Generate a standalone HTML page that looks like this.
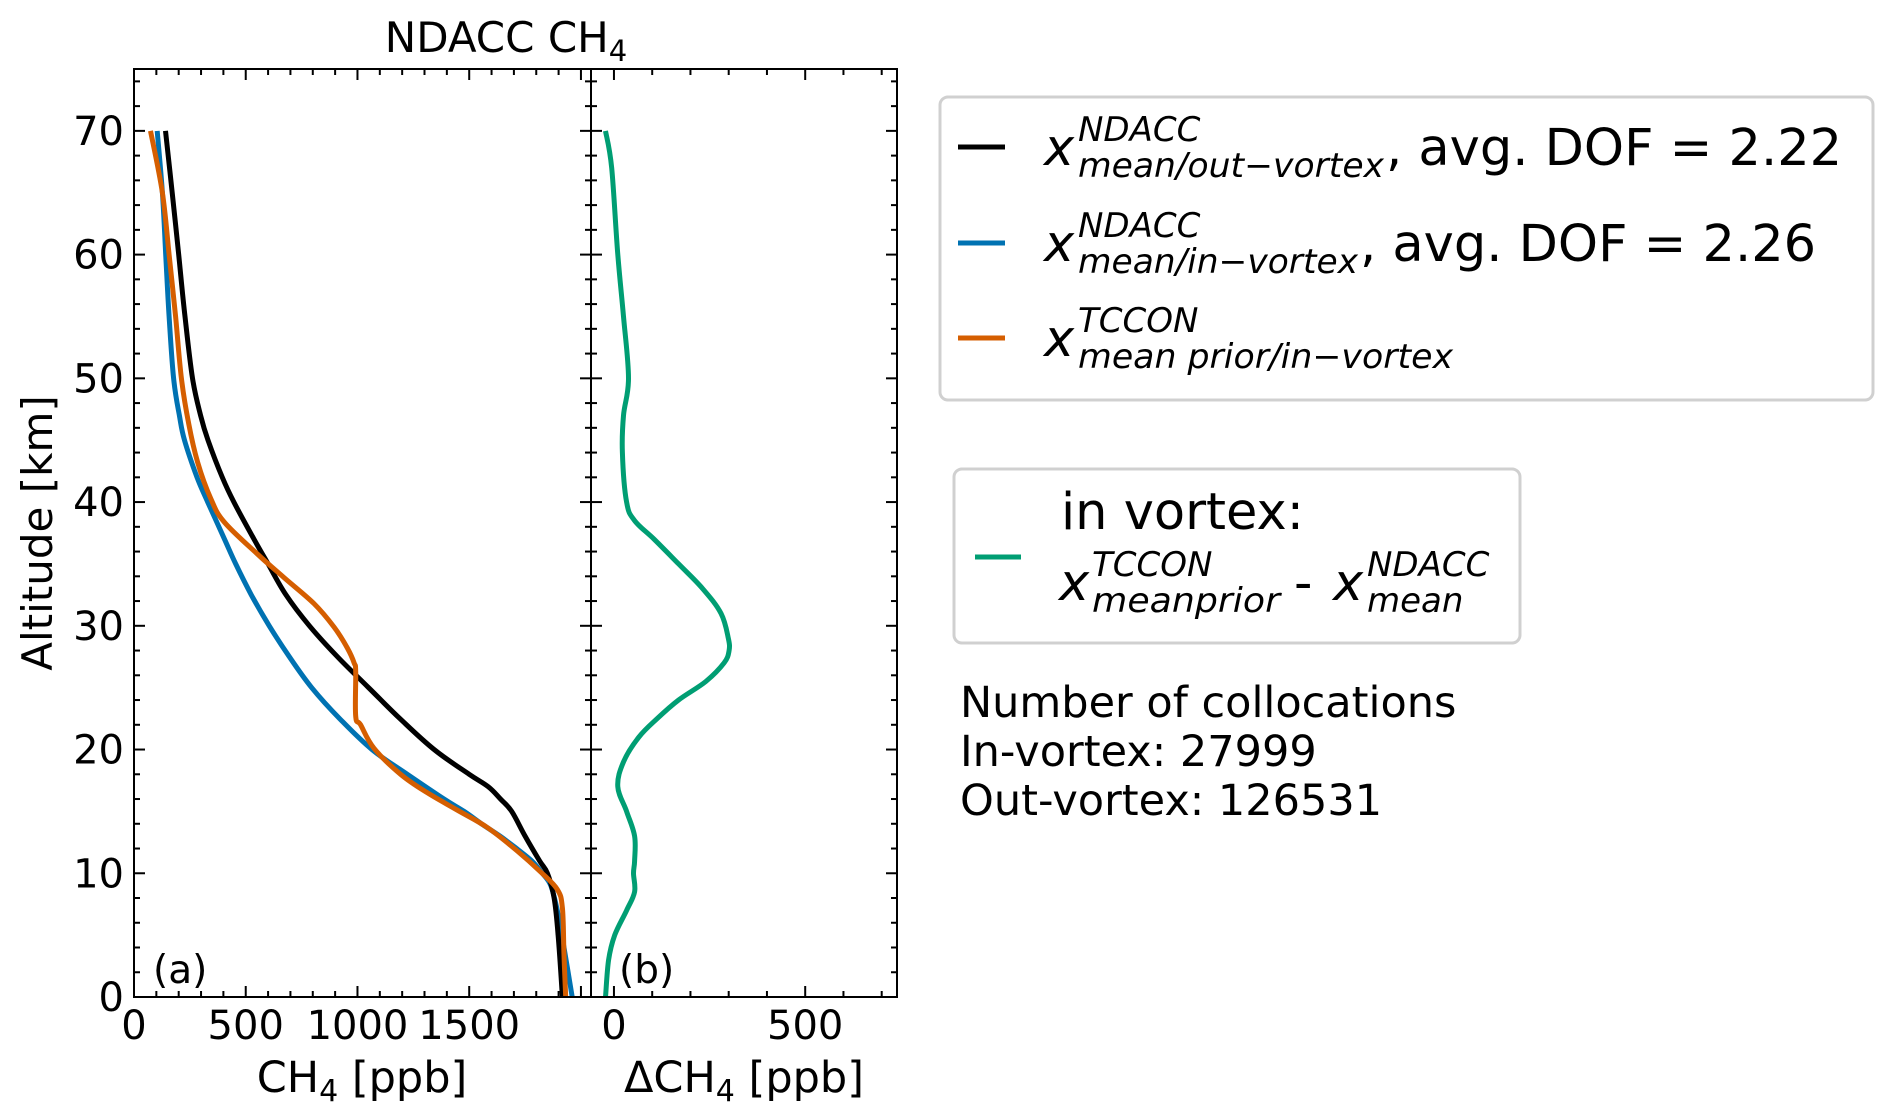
<!DOCTYPE html>
<html><head><meta charset="utf-8"><style>
html,body{margin:0;padding:0;background:#fff}
svg{display:block;font-family:"DejaVu Sans","Liberation Sans",sans-serif}
</style></head><body>
<svg id="fig" width="1892" height="1120" viewBox="0 0 1892 1120" xmlns="http://www.w3.org/2000/svg">
<g id="plot"></g>
<text x="506" y="52" font-size="42" text-anchor="middle">NDACC CH<tspan font-size="29" dy="9">4</tspan></text>
<text transform="translate(52,533) rotate(-90)" font-size="42" text-anchor="middle">Altitude [km]</text>
<text x="362" y="1092" font-size="43" text-anchor="middle">CH<tspan font-size="30" dy="9">4</tspan><tspan dy="-9"> [ppb]</tspan></text>
<text x="744" y="1092" font-size="43" text-anchor="middle">ΔCH<tspan font-size="30" dy="9">4</tspan><tspan dy="-9"> [ppb]</tspan></text>
<text x="153" y="983" font-size="39">(a)</text>
<text x="619" y="983" font-size="39">(b)</text>

<g>
<rect x="940" y="97" width="933" height="303" rx="8" fill="#fff" stroke="#d0d0d0" stroke-width="3"/>
<g>
<line x1="958" y1="147" x2="1005" y2="147" stroke="#000" stroke-width="5"/>
<text x="1044" y="165" font-size="51" font-style="italic">x</text>
<text x="1078" y="141" font-size="34" font-style="italic">NDACC</text>
<text x="1078" y="177" font-size="34" font-style="italic" textLength="306" lengthAdjust="spacingAndGlyphs">mean/out−vortex</text>
<text x="1386" y="165" font-size="51">, avg. DOF = 2.22</text>
</g>
<g>
<line x1="958" y1="243" x2="1005" y2="243" stroke="#0072B2" stroke-width="5"/>
<text x="1044" y="261" font-size="51" font-style="italic">x</text>
<text x="1078" y="237" font-size="34" font-style="italic">NDACC</text>
<text x="1078" y="273" font-size="34" font-style="italic" textLength="280" lengthAdjust="spacingAndGlyphs">mean/in−vortex</text>
<text x="1360" y="261" font-size="51">, avg. DOF = 2.26</text>
</g>
<g>
<line x1="958" y1="338" x2="1005" y2="338" stroke="#D55E00" stroke-width="5"/>
<text x="1044" y="356" font-size="51" font-style="italic">x</text>
<text x="1078" y="332" font-size="34" font-style="italic">TCCON</text>
<text x="1078" y="368" font-size="34" font-style="italic" textLength="375" lengthAdjust="spacingAndGlyphs">mean prior/in−vortex</text>
</g>
</g>

<g>
<rect x="954" y="469" width="566" height="174" rx="8" fill="#fff" stroke="#d0d0d0" stroke-width="3"/>
<g>
<line x1="975" y1="557" x2="1021" y2="557" stroke="#009E73" stroke-width="5"/>
<text x="1061" y="529" font-size="51">in vortex:</text>
<text x="1059" y="600" font-size="51" font-style="italic">x</text>
<text x="1092" y="576" font-size="34" font-style="italic">TCCON</text>
<text x="1092" y="612" font-size="34" font-style="italic" textLength="188" lengthAdjust="spacingAndGlyphs">meanprior</text>
<text x="1294" y="600" font-size="51">-</text>
<text x="1333" y="600" font-size="51" font-style="italic">x</text>
<text x="1367" y="576" font-size="34" font-style="italic">NDACC</text>
<text x="1367" y="612" font-size="34" font-style="italic">mean</text>
</g>
</g>

<g font-size="43">
<text x="960" y="717">Number of collocations</text>
<text x="960" y="766">In-vortex: 27999</text>
<text x="960" y="815">Out-vortex: 126531</text>
</g>
</svg>
<script>
// ---- data ----
const altBlack = [70,65,60,55,50,47,45,42,40,37,35,32.5,30,27.5,25,22.5,20,18,17,16,15,13,11,10,8,5,0];
const valBlack = [141,171,200,228,262,298,331,395,447,537,600,680,785,910,1050,1190,1343,1500,1585,1640,1690,1750,1815,1850,1880,1898,1917];
const altBlue = [70,65,60,55,50,47,45,42,40,37,35,32.5,30,27.5,25,22.5,20,18,16,15,14,13,12,11,10,9,7,4,0];
const valBlue = [104,127,142,157,177,203,226,282,330,405,455,525,605,695,795,920,1065,1223,1387,1477,1555,1638,1712,1780,1827,1865,1894,1924,1961];
const altOrange = [70,65,60,55,50,46.3,43.2,40.3,38.4,35.8,33.9,31.8,29.9,28.2,27,26.3,22.7,22,20.1,18,16.5,15.1,13.7,11.8,10.1,8.7,7.2,3.4,0];
const valOrange = [74,127,157,186,212,245,285,343,403,552,671,805,895,955,985,992,992,1014,1074,1193,1313,1447,1581,1715,1820,1894,1917,1924,1932];
const altGreen = [70,67,60,55,50,47,44,40,38.5,37,35,33,31,29,28,27,25.5,24,22.5,21,19,17,15,13,11,10,8.5,7,5,3,0];
const valGreen = [-22,-6,10,25,38,25,22,33,54,105,169,232,280,299,301,288,240,169,113,65,25,10,33,54,54,51,54,33,2,-14,-22];
const xTicksA = [0,500,1000,1500];
const xTicksB = [0,500];
const yTicks = [0,10,20,30,40,50,60,70];

const NS = 'http://www.w3.org/2000/svg';
const plot = document.getElementById('plot');
const top_ = 69, bot = 997;
const yMin = 0, yMax = 75;
function Y(a){ return bot - (a - yMin) / (yMax - yMin) * (bot - top_); }
const A = {x0:134, x1:591, min:0, max:2045};
const B = {x0:591, x1:897, min:-60, max:740};
function XA(v){ return A.x0 + (v - A.min) / (A.max - A.min) * (A.x1 - A.x0); }
function XB(v){ return B.x0 + (v - B.min) / (B.max - B.min) * (B.x1 - B.x0); }

function mk(tag, attrs){
  const e = document.createElementNS(NS, tag);
  for (const k in attrs) e.setAttribute(k, attrs[k]);
  plot.appendChild(e);
  return e;
}
function series(alts, vals, X, color, name){
  const pts = alts.map((a, i) => [X(vals[i]), Y(a)]);
  let d = 'M' + pts[0][0].toFixed(1) + ',' + pts[0][1].toFixed(1);
  const t = 0.35;
  for (let i = 0; i < pts.length - 1; i++) {
    const p0 = pts[Math.max(0, i - 1)], p1 = pts[i], p2 = pts[i + 1], p3 = pts[Math.min(pts.length - 1, i + 2)];
    const c1 = [p1[0] + (p2[0] - p0[0]) * t / 2, p1[1] + (p2[1] - p0[1]) * t / 2];
    const c2 = [p2[0] - (p3[0] - p1[0]) * t / 2, p2[1] - (p3[1] - p1[1]) * t / 2];
    d += 'C' + c1[0].toFixed(1) + ',' + c1[1].toFixed(1) + ' ' + c2[0].toFixed(1) + ',' + c2[1].toFixed(1) + ' ' + p2[0].toFixed(1) + ',' + p2[1].toFixed(1);
  }
  const p = mk('path', {d: d, fill: 'none', stroke: color, 'stroke-width': 5, 'stroke-linejoin': 'round'});
  
  
}
series(altBlue, valBlue, XA, '#0072B2', 'line-ndacc-in-vortex');
series(altBlack, valBlack, XA, '#000000', 'line-ndacc-out-vortex');
series(altOrange, valOrange, XA, '#D55E00', 'line-tccon-prior');
series(altGreen, valGreen, XB, '#009E73', 'line-difference');

function axesFrame(ax, X, ticks, name){
  const r = mk('rect', {x: ax.x0, y: top_, width: ax.x1 - ax.x0, height: bot - top_, fill: 'none', stroke: '#000', 'stroke-width': 2});
  
  
  for (let v = Math.ceil(ax.min / 100) * 100; v <= ax.max; v += 100) {
    const x = X(v); const major = v % 500 === 0; const L = major ? 11 : 6;
    const t1 = mk('line', {x1: x, y1: bot, x2: x, y2: bot - L, stroke: '#000', 'stroke-width': 2});
    
    
    const t2 = mk('line', {x1: x, y1: top_, x2: x, y2: top_ + L, stroke: '#000', 'stroke-width': 2});
    
    
  }
  ticks.forEach(v => {
    const t = mk('text', {x: X(v), y: 1039, 'font-size': 40, 'text-anchor': 'middle'});
    t.textContent = v;
    
    
  });
  for (let a = 0; a <= 74; a += 2) {
    const y = Y(a); const L = a % 10 === 0 ? 11 : 6;
    const t1 = mk('line', {x1: ax.x0, y1: y, x2: ax.x0 + L, y2: y, stroke: '#000', 'stroke-width': 2});
    
    
    const t2 = mk('line', {x1: ax.x1, y1: y, x2: ax.x1 - L, y2: y, stroke: '#000', 'stroke-width': 2});
    
    
  }
}
axesFrame(A, XA, xTicksA, 'panel-a');
axesFrame(B, XB, xTicksB, 'panel-b');
yTicks.forEach(a => {
  const t = mk('text', {x: 124, y: Y(a) + 14, 'font-size': 40, 'text-anchor': 'end'});
  t.textContent = a;
  
  
});
</script>
</body></html>
